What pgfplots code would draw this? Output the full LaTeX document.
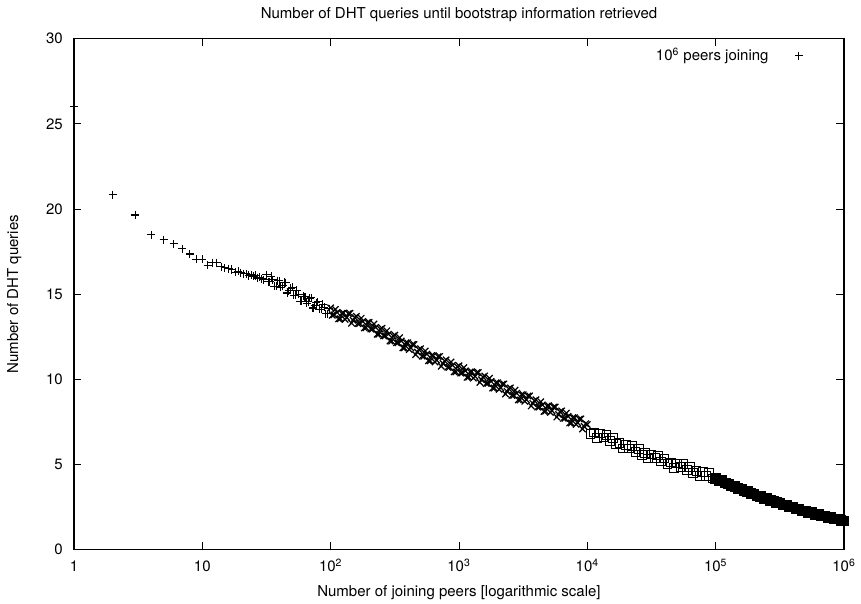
\documentclass[border=0pt]{standalone}
\usepackage{fontspec}
\setmainfont{TeX Gyre Heros}
\usepackage{pgfplots}
\pgfplotsset{compat=1.18}
\begin{document}
\fontsize{10pt}{12pt}\selectfont
\begin{tikzpicture}
\begin{axis}[
  at={(0,0)}, anchor=south west,
  scale only axis, width=513.33pt, height=340.67pt,
  xmode=log, xmin=1, xmax=1000000, ymin=0, ymax=30,
  xtick={1,10,100,1000,10000,100000,1000000},
  xticklabels={1,10,10\textsuperscript{2},10\textsuperscript{3},10\textsuperscript{4},10\textsuperscript{5},10\textsuperscript{6}},
  xminorticks=false, yminorticks=false,
  ytick={0,5,...,30},
  /pgf/number format/assume math mode=true,
  tick align=inside, major tick length=5pt,
  tick style={black, line width=0.6pt},
  axis line style={line width=0.7pt},
  xticklabel style={anchor=base, inner sep=0pt, yshift=-14.7pt},
  yticklabel style={anchor=east, inner sep=0pt, xshift=-7.3pt},
  xlabel={Number of joining peers [logarithmic scale]},
  xlabel style={at={(axis description cs:0.5,-0.0919)}, anchor=base, inner sep=0pt},
  ylabel={Number of DHT queries},
  ylabel style={at={(axis description cs:-0.0727,0.5)}, anchor=base, inner sep=0pt, rotate=0},
  legend plot pos=right, legend cell align=right,
  legend style={draw=none, fill=none, at={(axis description cs:0.953,0.994)}, anchor=north east},
  legend image code/.code={\path (0cm,0cm); \draw[#1] plot coordinates {(0.63cm,0cm)};},
  clip=false,
]
\node[anchor=base, inner sep=0pt] at (axis description cs:0.5,1.0405) {Number of DHT queries until bootstrap information retrieved};
\addplot[only marks, mark=+, mark size=2.7pt, line width=0.7pt, black] table {
x y
1 26.00
2 20.85
3 19.65
4 18.48
5 18.20
6 17.95
7 17.68
8 17.36
9 17.06
10 17.05
11 16.70
12 16.85
13 16.85
14 16.60
15 16.55
16 16.50
17 16.45
18 16.30
19 16.35
20 16.25
21 16.20
22 16.20
23 16.10
24 16.15
25 16.05
26 16.10
27 15.95
28 16.00
29 15.90
30 15.85
31.62 16.15
32.55 15.72
33.50 15.73
34.47 16.04
35.48 15.85
36.52 15.47
37.58 15.48
38.68 15.79
39.81 15.80
40.97 15.40
42.17 15.49
43.40 15.69
44.67 15.68
45.97 15.07
47.32 15.21
48.70 15.36
50.12 15.40
51.58 14.94
53.09 14.93
54.64 15.22
56.23 15.00
57.88 14.59
59.57 14.58
61.31 14.87
63.10 14.85
64.94 14.46
66.83 14.56
68.79 14.77
70.79 14.78
72.86 14.19
74.99 14.34
77.18 14.50
79.43 14.55
81.75 14.11
84.14 14.11
86.60 14.42
89.13 14.23
91.73 13.84
94.41 13.84
97.16 14.15
};
\addlegendentry{10\textsuperscript{6} peers joining}
\addplot[only marks, mark=x, mark size=3.0pt, line width=0.8pt, black, forget plot] table {
x y
100 14.20
102.9 13.77
105.9 13.79
109.0 14.11
112.2 13.93
115.5 13.55
118.9 13.56
122.3 13.88
125.9 13.90
129.6 13.52
133.4 13.64
137.3 13.86
141.3 13.88
145.4 13.30
149.6 13.46
154.0 13.63
158.5 13.70
163.1 13.27
167.9 13.28
172.8 13.59
177.8 13.40
183.0 13.02
188.4 13.03
193.9 13.34
199.5 13.35
205.4 12.95
211.3 12.95
217.5 13.25
223.9 13.05
230.4 12.65
237.1 12.65
244.1 12.95
251.2 13.00
258.5 12.55
266.1 12.55
273.8 12.85
281.8 12.65
290.1 12.25
298.5 12.25
307.3 12.55
316.2 12.60
325.5 12.15
335.0 12.15
344.8 12.45
354.8 12.25
365.2 11.85
375.8 11.85
386.8 12.15
398.1 12.15
409.7 11.75
421.7 11.85
434.0 12.05
446.7 12.05
459.7 11.45
473.2 11.60
487.0 11.75
501.2 11.80
515.8 11.36
530.9 11.36
546.4 11.67
562.3 11.48
578.8 11.09
595.7 11.09
613.1 11.40
631.0 11.40
649.4 11.02
668.3 11.13
687.9 11.34
707.9 11.35
728.6 10.77
749.9 10.93
771.8 11.09
794.3 11.15
817.5 10.71
841.4 10.71
866.0 11.02
891.3 10.83
917.3 10.44
944.1 10.44
971.6 10.75
1000 10.80
1029 10.37
1059 10.38
1090 10.69
1122 10.50
1155 10.12
1189 10.13
1223 10.44
1259 10.45
1296 10.07
1334 10.18
1373 10.39
1413 10.40
1454 9.82
1496 9.98
1540 10.14
1585 10.20
1631 9.76
1679 9.76
1728 10.07
1778 9.88
1830 9.49
1884 9.49
1939 9.80
1995 9.80
2054 9.41
2113 9.51
2175 9.72
2239 9.73
2304 9.14
2371 9.29
2441 9.45
2512 9.50
2585 9.06
2661 9.06
2738 9.37
2818 9.18
2901 8.79
2985 8.79
3073 9.10
3162 9.10
3255 8.71
3350 8.81
3448 9.02
3548 9.03
3652 8.44
3758 8.59
3868 8.75
3981 8.80
4097 8.37
4217 8.38
4340 8.69
4467 8.50
4597 8.12
4732 8.13
4870 8.44
5012 8.45
5158 8.06
5309 8.16
5464 8.37
5623 8.38
5788 7.79
5957 7.94
6131 8.10
6310 8.15
6494 7.71
6683 7.71
6879 8.02
7079 7.83
7286 7.44
7499 7.44
7718 7.75
7943 7.75
8175 7.36
8414 7.46
8660 7.67
8913 7.68
9173 7.09
9441 7.24
9716 7.40
10000 7.35
};
\addplot[only marks, mark=square, mark size=2.9pt, line width=0.6pt, black, forget plot] table {
x y
1.059e4 6.81
1.122e4 6.89
1.189e4 6.58
1.259e4 6.82
1.334e4 6.59
1.413e4 6.75
1.496e4 6.40
1.585e4 6.56
1.679e4 6.19
1.778e4 6.27
1.884e4 5.94
1.995e4 6.17
2.113e4 5.94
2.239e4 6.10
2.371e4 5.75
2.512e4 5.91
2.661e4 5.56
2.818e4 5.66
2.985e4 5.35
3.162e4 5.60
3.350e4 5.37
3.548e4 5.54
3.758e4 5.19
3.981e4 5.36
4.217e4 5.02
4.467e4 5.12
4.732e4 4.81
5.012e4 5.07
5.309e4 4.85
5.623e4 5.03
5.957e4 4.68
6.310e4 4.86
6.683e4 4.52
7.079e4 4.62
7.499e4 4.31
7.943e4 4.57
8.414e4 4.35
8.913e4 4.53
9.441e4 4.18
};
\addplot[only marks, mark=square*, mark size=3.2pt, line width=0.6pt, black, fill=black, forget plot] table {
x y
1.000e5 4.20
1.059e5 4.08
1.122e5 4.05
1.189e5 3.91
1.259e5 3.87
1.334e5 3.75
1.413e5 3.72
1.496e5 3.60
1.585e5 3.57
1.679e5 3.45
1.778e5 3.42
1.884e5 3.30
1.995e5 3.27
2.113e5 3.15
2.239e5 3.14
2.371e5 3.02
2.512e5 3.00
2.661e5 2.89
2.818e5 2.87
2.985e5 2.76
3.162e5 2.74
3.350e5 2.63
3.548e5 2.62
3.758e5 2.51
3.981e5 2.50
4.217e5 2.39
4.467e5 2.39
4.732e5 2.28
5.012e5 2.27
5.309e5 2.17
5.623e5 2.17
5.957e5 2.07
6.310e5 2.07
6.683e5 1.98
7.079e5 1.99
7.499e5 1.89
7.943e5 1.90
8.414e5 1.81
8.913e5 1.81
9.441e5 1.72
1.000e6 1.70
};
\end{axis}
\pgfresetboundingbox
\path (-49.33pt,-36pt) rectangle (524.67pt,366.47pt);
\end{tikzpicture}
\end{document}
